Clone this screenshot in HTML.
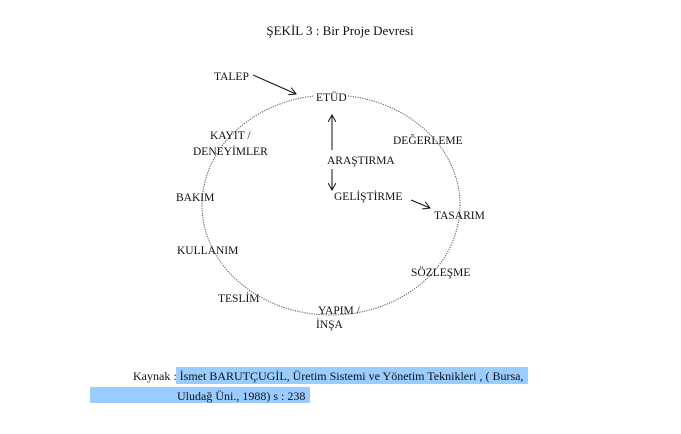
<!DOCTYPE html>
<html><head><meta charset="utf-8"><style>
html,body{margin:0;padding:0;background:#fff;}
svg{display:block;}
text{font-family:"Liberation Serif",serif;font-size:11.5px;fill:#111;}
</style></head><body>
<svg width="681" height="434" viewBox="0 0 681 434">
<defs><marker id="a" markerWidth="8" markerHeight="8" refX="7" refY="4" orient="auto" markerUnits="userSpaceOnUse"><path d="M0,0 L7,4 L0,8" fill="none" stroke="#111" stroke-width="1"/></marker></defs>
<text x="340" y="35" text-anchor="middle" style="font-size:13px">ŞEKİL 3 : Bir Proje Devresi</text>
<ellipse cx="331" cy="205" rx="129" ry="110" fill="none" stroke="#555" stroke-width="1" stroke-dasharray="1.2,1.2"/>
<line x1="253" y1="75" x2="296" y2="94" stroke="#111" stroke-width="1" marker-end="url(#a)"/>
<line x1="332" y1="150" x2="332" y2="115" stroke="#111" stroke-width="1" marker-end="url(#a)"/>
<line x1="332" y1="169" x2="332" y2="190" stroke="#111" stroke-width="1" marker-end="url(#a)"/>
<line x1="411" y1="200" x2="430" y2="208" stroke="#111" stroke-width="1" marker-end="url(#a)"/>
<g>
<rect x="314" y="91" width="34" height="12" fill="#fff"/>
<text x="214" y="80">TALEP</text>
<text x="316" y="101">ETÜD</text>
<text x="210" y="139">KAYIT /</text>
<text x="193" y="155">DENEYİMLER</text>
<text x="393" y="144">DEĞERLEME</text>
<text x="327" y="164">ARAŞTIRMA</text>
<text x="334" y="200">GELİŞTİRME</text>
<text x="176" y="201">BAKIM</text>
<text x="434" y="219">TASARIM</text>
<text x="177" y="254">KULLANIM</text>
<text x="411" y="276">SÖZLEŞME</text>
<text x="218" y="302">TESLİM</text>
<text x="318" y="314">YAPIM /</text>
<text x="316" y="328">İNŞA</text>
</g>
<rect x="176" y="367" width="352" height="17" fill="#99ccff"/>
<rect x="90" y="387" width="220" height="16" fill="#99ccff"/>
<text x="133" y="380" style="font-size:12px">Kaynak : İsmet BARUTÇUGİL, Üretim Sistemi ve Yönetim Teknikleri , ( Bursa,</text>
<text x="177" y="400" style="font-size:12px">Uludağ Üni., 1988) s : 238</text>
</svg>
</body></html>
